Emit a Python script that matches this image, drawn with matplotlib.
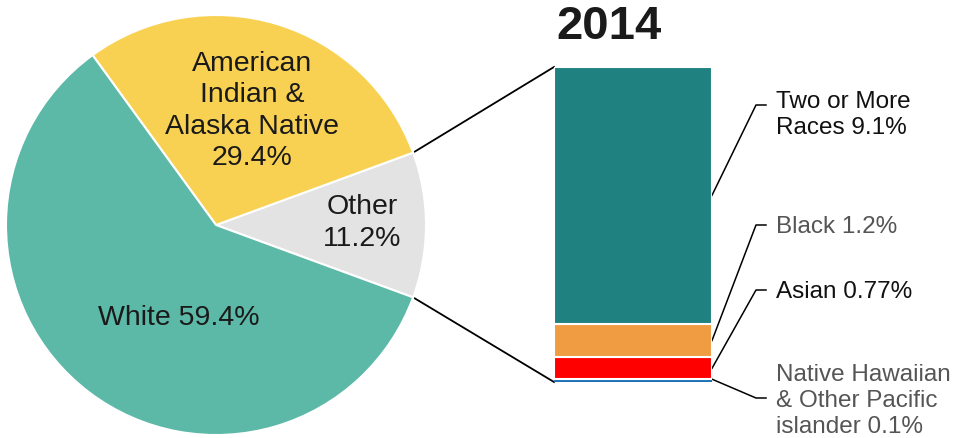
import numpy as np
import matplotlib.pyplot as plt

# pie: share of population, 2014
pie_labels = ['Other\n11.2%', 'American\nIndian &\nAlaska Native\n29.4%', 'White 59.4%']
pie_values = [11.2, 29.4, 59.4]
pie_colors = ['#E3E3E3', '#F9D152', '#5CB8A7']

# breakdown of "Other" (stacked bar, bottom to top)
bar_labels = ['Native Hawaiian\n& Other Pacific\nislander 0.1%', 'Asian 0.77%',
              'Black 1.2%', 'Two or More\nRaces 9.1%']
bar_values = [0.1, 0.77, 1.2, 9.1]
bar_colors = ['#1F70B8', '#FF0000', '#F09C42', '#208280']
label_colors = ['#555555', '#111111', '#555555', '#111111']

W, H = 961, 438
fig = plt.figure(figsize=(W / 100, H / 100), dpi=100)
plt.rcParams['font.family'] = ['Liberation Sans', 'DejaVu Sans']

# pie axes (pixel box of the pie)
cx, cy, r = 216, 225, 210
ax_pie = fig.add_axes([(cx - r) / W, (H - cy - r) / H, 2 * r / W, 2 * r / H])
start = -pie_values[0] / 100 * 360 / 2
ax_pie.pie(pie_values, colors=pie_colors, startangle=start, counterclock=True,
           wedgeprops=dict(edgecolor='white', linewidth=1.5))
ax_pie.set_xlim(-1, 1)
ax_pie.set_ylim(-1, 1)
ax_pie.set_aspect('equal')
ax_pie.axis('off')

text_pos = [(0.695, 0.01), (0.171, 0.543), (-0.176, -0.443)]
for lab, (tx, ty) in zip(pie_labels, text_pos):
    ax_pie.text(tx, ty, lab, ha='center', va='center', fontsize=20.5,
                color='#1a1a1a', linespacing=1.27)

# stacked bar axes
bx0, bx1, by0, by1 = 554, 712, 67, 382
ax_bar = fig.add_axes([bx0 / W, (H - by1) / H, (bx1 - bx0) / W, (by1 - by0) / H])
total = sum(bar_values)
bottoms = np.concatenate([[0], np.cumsum(bar_values)[:-1]])
for v, b, c in zip(bar_values, bottoms, bar_colors):
    ec = c if v < 0.5 else 'white'
    ax_bar.bar(0, v, bottom=b, width=1, color=c, edgecolor=ec, linewidth=1.5)
ax_bar.set_xlim(-0.5, 0.5)
ax_bar.set_ylim(0, total)
ax_bar.axis('off')

# overlay in pixel coords for lines and labels
ov = fig.add_axes([0, 0, 1, 1], zorder=-1)
ov.set_xlim(0, W)
ov.set_ylim(H, 0)
ov.axis('off')


def to_px(ax, x, y):
    dx, dy = ax.transData.transform((x, y))
    return dx, H - dy


ov.text(609, 27, '2014', ha='center', va='center', fontsize=34, fontweight='bold',
        color='#1a1a1a')

# lines from the "Other" slice to the bar
th = np.deg2rad(pie_values[0] / 100 * 360 / 2)
p_top = to_px(ax_pie, np.cos(th), np.sin(th))
p_bot = to_px(ax_pie, np.cos(-th), np.sin(-th))
b_top = to_px(ax_bar, -0.5, total)
b_bot = to_px(ax_bar, -0.5, 0)
ov.plot([p_top[0], b_top[0]], [p_top[1], b_top[1]], color='black', lw=1.3)
ov.plot([p_bot[0], b_bot[0]], [p_bot[1], b_bot[1]], color='black', lw=1.3)

# leader lines and labels
elbow_y = [398, 290, 225, 105]
text_y = [401, 292, 227, 115]
for v, b, lab, col, ey, ty in zip(bar_values, bottoms, bar_labels, label_colors, elbow_y, text_y):
    mid = b + v / 2 if v > 0.5 else b + v
    sx, sy = to_px(ax_bar, 0.5, mid)
    ov.plot([sx, 756, 766], [sy, ey, ey], color='black', lw=1.1)
    ov.text(776, ty, lab, ha='left', va='center', fontsize=17.5, color=col,
            linespacing=1.26)

fig.savefig('out.png', dpi=100)
